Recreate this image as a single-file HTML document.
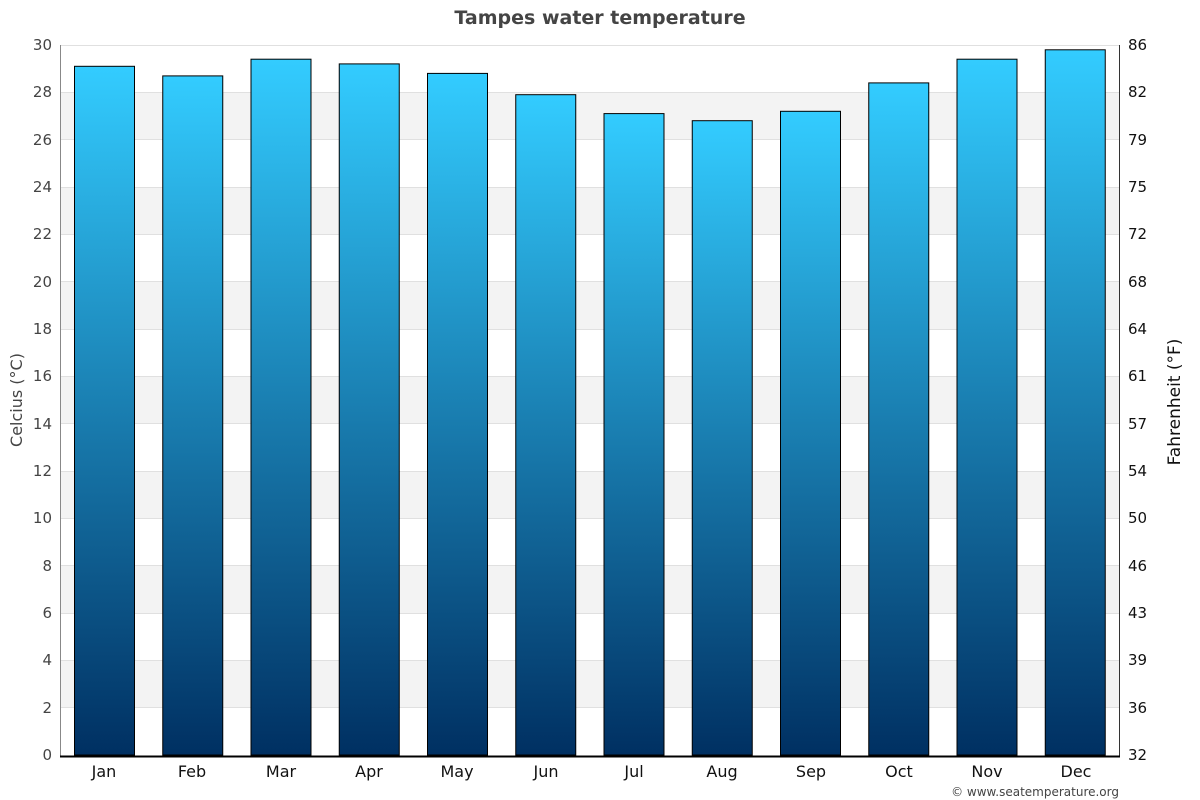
<!DOCTYPE html>
<html><head><meta charset="utf-8"><style>body{margin:0;background:#fff}svg{display:block;font-family:"DejaVu Sans","Liberation Sans",sans-serif}</style></head><body>
<svg width="1200" height="800" xmlns="http://www.w3.org/2000/svg">
<defs><linearGradient id="g" x1="0" y1="0" x2="0" y2="1"><stop offset="0" stop-color="#33ccff"/><stop offset="1" stop-color="#003062"/></linearGradient></defs>
<g fill="#f3f3f3">
<rect x="60" y="92.3" width="1059" height="47.4"/><rect x="60" y="187" width="1059" height="47.3"/><rect x="60" y="281.7" width="1059" height="47.3"/><rect x="60" y="376.3" width="1059" height="47.4"/><rect x="60" y="471" width="1059" height="47.3"/><rect x="60" y="565.7" width="1059" height="47.3"/><rect x="60" y="660.3" width="1059" height="47.4"/></g>
<g stroke="#e0e0e0" stroke-width="1">
<line x1="60" x2="1119" y1="45.5" y2="45.5"/><line x1="60" x2="1119" y1="92.5" y2="92.5"/><line x1="60" x2="1119" y1="139.5" y2="139.5"/><line x1="60" x2="1119" y1="187.5" y2="187.5"/><line x1="60" x2="1119" y1="234.5" y2="234.5"/><line x1="60" x2="1119" y1="281.5" y2="281.5"/><line x1="60" x2="1119" y1="329.5" y2="329.5"/><line x1="60" x2="1119" y1="376.5" y2="376.5"/><line x1="60" x2="1119" y1="423.5" y2="423.5"/><line x1="60" x2="1119" y1="471.5" y2="471.5"/><line x1="60" x2="1119" y1="518.5" y2="518.5"/><line x1="60" x2="1119" y1="565.5" y2="565.5"/><line x1="60" x2="1119" y1="613.5" y2="613.5"/><line x1="60" x2="1119" y1="660.5" y2="660.5"/><line x1="60" x2="1119" y1="707.5" y2="707.5"/></g>
<g fill="url(#g)" stroke="#000" stroke-width="1">
<rect x="74.5" y="66.3" width="60" height="688.7"/><rect x="162.75" y="75.9" width="60" height="679.1"/><rect x="251" y="59.2" width="60" height="695.8"/><rect x="339.25" y="63.9" width="60" height="691.1"/><rect x="427.5" y="73.4" width="60" height="681.6"/><rect x="515.75" y="94.7" width="60" height="660.3"/><rect x="604" y="113.6" width="60" height="641.4"/><rect x="692.25" y="120.7" width="60" height="634.3"/><rect x="780.5" y="111.3" width="60" height="643.7"/><rect x="868.75" y="82.9" width="60" height="672.1"/><rect x="957" y="59.2" width="60" height="695.8"/><rect x="1045.25" y="49.8" width="60" height="705.2"/></g>
<line x1="60.5" y1="45" x2="60.5" y2="756" stroke="#888"/>
<line x1="1119.5" y1="45" x2="1119.5" y2="756" stroke="#333"/>
<line x1="60" y1="756.5" x2="1120" y2="756.5" stroke="#000" stroke-width="2"/>
<text x="600" y="24" text-anchor="middle" font-size="19" font-weight="bold" fill="#444">Tampes water temperature</text>
<g font-size="15" fill="#444" text-anchor="end">
<text x="52" y="760">0</text><text x="52" y="713">2</text><text x="52" y="665">4</text><text x="52" y="618">6</text><text x="52" y="571">8</text><text x="52" y="523">10</text><text x="52" y="476">12</text><text x="52" y="429">14</text><text x="52" y="381">16</text><text x="52" y="334">18</text><text x="52" y="287">20</text><text x="52" y="239">22</text><text x="52" y="192">24</text><text x="52" y="145">26</text><text x="52" y="97">28</text><text x="52" y="50">30</text></g>
<g font-size="15" fill="#111">
<text x="1128" y="760">32</text><text x="1128" y="713">36</text><text x="1128" y="665">39</text><text x="1128" y="618">43</text><text x="1128" y="571">46</text><text x="1128" y="523">50</text><text x="1128" y="476">54</text><text x="1128" y="429">57</text><text x="1128" y="381">61</text><text x="1128" y="334">64</text><text x="1128" y="287">68</text><text x="1128" y="239">72</text><text x="1128" y="192">75</text><text x="1128" y="145">79</text><text x="1128" y="97">82</text><text x="1128" y="50">86</text></g>
<g font-size="16" fill="#111" text-anchor="middle">
<text x="104" y="777">Jan</text><text x="192" y="777">Feb</text><text x="281" y="777">Mar</text><text x="369" y="777">Apr</text><text x="457" y="777">May</text><text x="546" y="777">Jun</text><text x="634" y="777">Jul</text><text x="722" y="777">Aug</text><text x="811" y="777">Sep</text><text x="899" y="777">Oct</text><text x="987" y="777">Nov</text><text x="1076" y="777">Dec</text></g>
<text transform="translate(22,400) rotate(-90)" text-anchor="middle" font-size="16" fill="#444">Celcius (°C)</text>
<text transform="translate(1180,402) rotate(-90)" text-anchor="middle" font-size="17" fill="#111">Fahrenheit (°F)</text>
<text x="1119" y="796" text-anchor="end" font-size="12" fill="#444">© www.seatemperature.org</text>
</svg>
</body></html>
